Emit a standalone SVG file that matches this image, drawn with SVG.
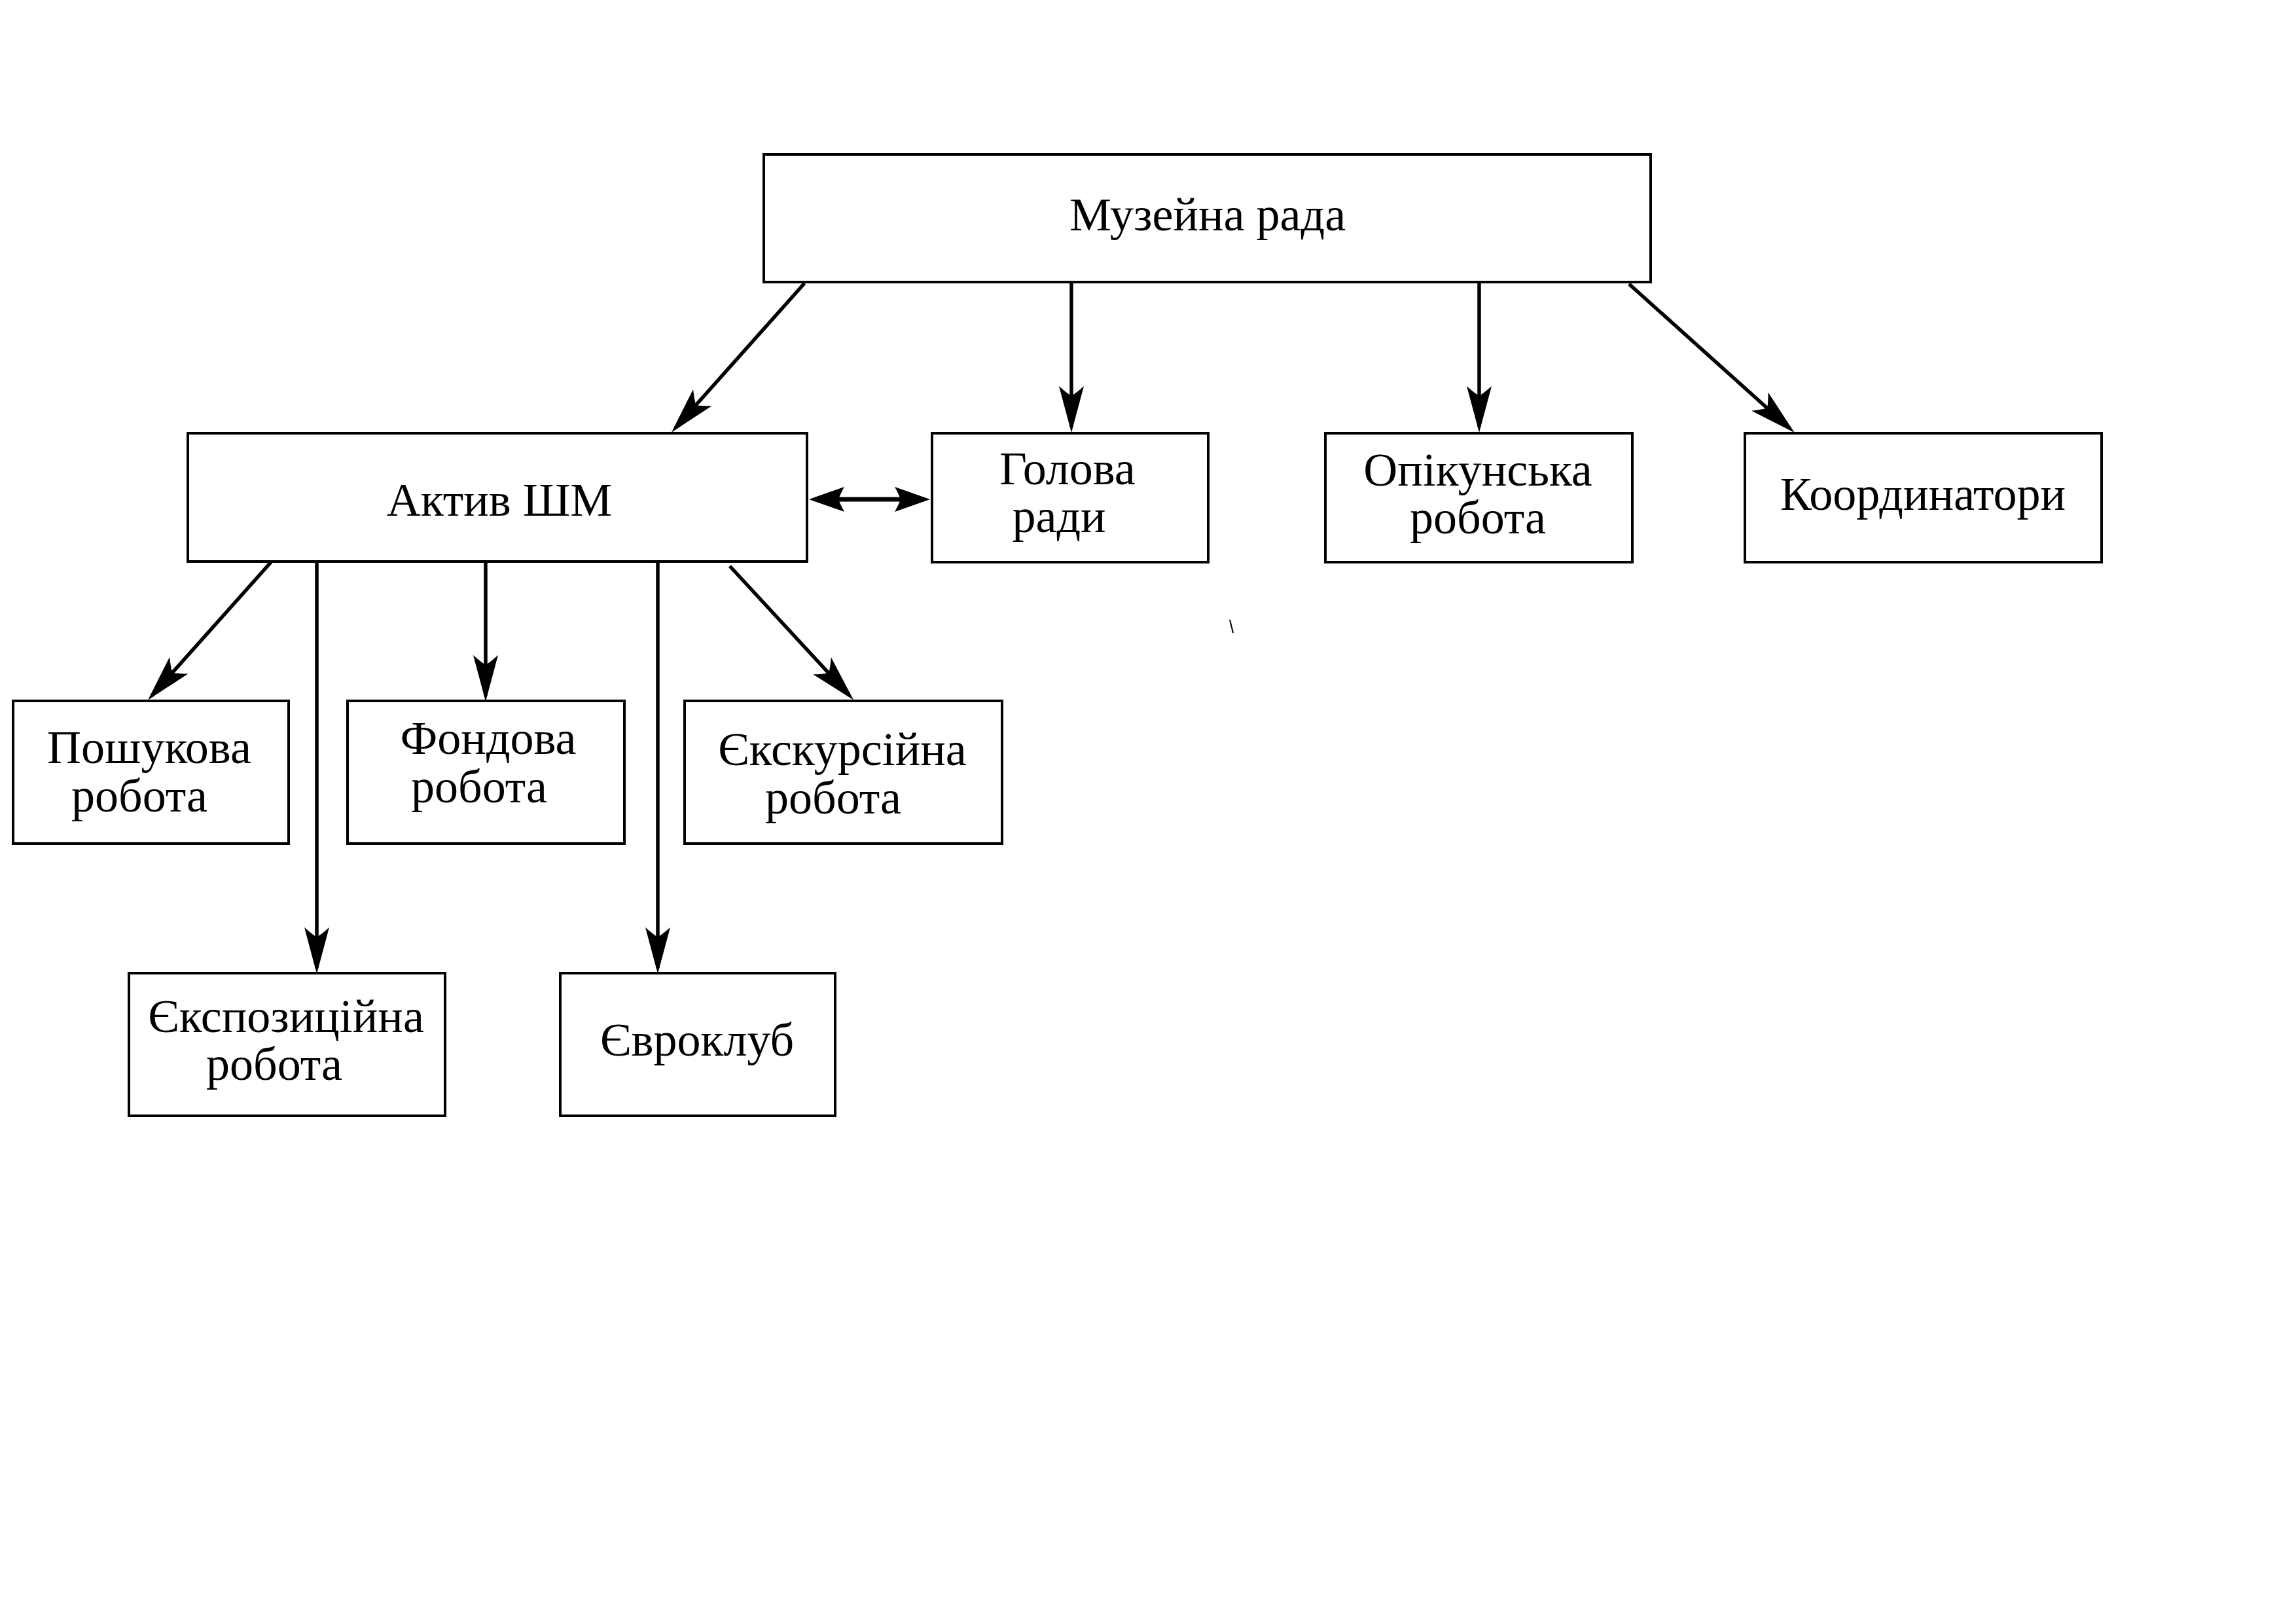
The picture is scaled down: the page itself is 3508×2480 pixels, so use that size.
<svg xmlns="http://www.w3.org/2000/svg" width="3508" height="2480" viewBox="0 0 3508 2480">
<style>
.box{fill:#fff;stroke:#000;stroke-width:4}
.lbl{font-family:"Liberation Serif","Times New Roman",serif;font-size:72px;fill:#000;text-anchor:middle}
.c{fill:none;stroke:#000;stroke-width:5.5}
.ca{marker-end:url(#arr)}
.cd{fill:none;stroke:#000;stroke-width:7;marker-start:url(#arr2);marker-end:url(#arr2)}
</style>
<defs>
<marker id="arr" markerUnits="userSpaceOnUse" viewBox="-75 -22 90 44" markerWidth="90" markerHeight="44" refX="-8" refY="0" orient="auto">
<path d="M1,0 Q-40,-11 -70,-19 Q-60,-8 -55,0 Q-60,8 -70,19 Q-40,11 1,0 Z" fill="#000"/>
</marker>
<marker id="arr2" markerUnits="userSpaceOnUse" viewBox="-75 -22 90 44" markerWidth="90" markerHeight="44" refX="-8" refY="0" orient="auto-start-reverse">
<path d="M1,0 Q-30,-11 -53,-19 Q-47,-8 -44,0 Q-47,8 -53,19 Q-30,11 1,0 Z" fill="#000"/>
</marker>
</defs>
<rect width="3508" height="2480" fill="#fff"/>

<g id="connectors">
<path class="c ca" d="M1229,433 L1032,654"/>
<path class="c ca" d="M1637,432 L1637,652"/>
<path class="c ca" d="M2260,432 L2260,652"/>
<path class="c ca" d="M2489,434 L2735,655"/>
<path class="cd" d="M1245,763 L1412,763"/>
<path class="c ca" d="M414,859 L232,1063"/>
<path class="c ca" d="M484,859 L484,1479"/>
<path class="c ca" d="M742,859 L742,1063"/>
<path class="c ca" d="M1005,859 L1005,1479"/>
<path class="c ca" d="M1115,865 L1298,1063"/>
<path d="M1879,947 L1884,967" stroke="#000" stroke-width="2" fill="none"/>
</g>

<g id="n-muzeina-rada">
<rect class="box" x="1167" y="236" width="1355" height="195"/>
<text class="lbl" x="1845" y="352">Музейна рада</text>
</g>
<g id="n-aktyv-shm">
<rect class="box" x="287" y="662" width="946" height="196"/>
<text class="lbl" x="763" y="788">Актив ШМ</text>
</g>
<g id="n-holova-rady">
<rect class="box" x="1424" y="662" width="422" height="197"/>
<text class="lbl" x="1631" y="740">Голова</text>
<text class="lbl" x="1618" y="813">ради</text>
</g>
<g id="n-opikunska">
<rect class="box" x="2025" y="662" width="469" height="197"/>
<text class="lbl" x="2258" y="742">Опікунська</text>
<text class="lbl" x="2258" y="815">робота</text>
</g>
<g id="n-koordynatory">
<rect class="box" x="2666" y="662" width="545" height="197"/>
<text class="lbl" x="2938" y="779">Координатори</text>
</g>
<g id="n-poshukova">
<rect class="box" x="20" y="1071" width="421" height="218"/>
<text class="lbl" x="228" y="1166">Пошукова</text>
<text class="lbl" x="213" y="1240">робота</text>
</g>
<g id="n-fondova">
<rect class="box" x="531" y="1071" width="423" height="218"/>
<text class="lbl" x="746" y="1152">Фондова</text>
<text class="lbl" x="732" y="1226">робота</text>
</g>
<g id="n-ekskursiina">
<rect class="box" x="1046" y="1071" width="485" height="218"/>
<text class="lbl" x="1287" y="1169">Єкскурсійна</text>
<text class="lbl" x="1273" y="1243">робота</text>
</g>
<g id="n-ekspozytsiina">
<rect class="box" x="197" y="1487" width="483" height="218"/>
<text class="lbl" x="437" y="1577">Єкспозиційна</text>
<text class="lbl" x="419" y="1650">робота</text>
</g>
<g id="n-evroklub">
<rect class="box" x="856" y="1487" width="420" height="218"/>
<text class="lbl" x="1065" y="1613">Євроклуб</text>
</g>
</svg>
